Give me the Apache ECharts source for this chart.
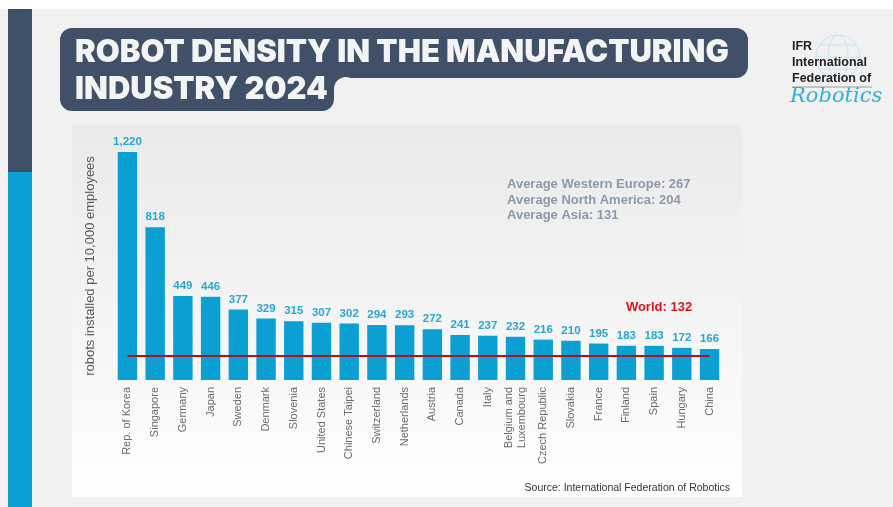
<!DOCTYPE html>
<html>
<head>
<meta charset="utf-8">
<script src="https://cdn.jsdelivr.net/npm/echarts@6/dist/echarts.min.js"></script>
<style>
  html, body { margin: 0; padding: 0; background: #f1f1f1; }
  #chart { width: 893px; height: 507px; }
</style>
</head>
<body>
<div id="chart"></div>
<script>
// robot density 2024, robots per 10,000 employees
var countries = ['Rep. of Korea', 'Singapore', 'Germany', 'Japan', 'Sweden', 'Denmark', 'Slovenia',
  'United States', 'Chinese Taipei', 'Switzerland', 'Netherlands', 'Austria', 'Canada', 'Italy',
  'Belgium and\nLuxembourg', 'Czech Republic', 'Slovakia', 'France', 'Finland', 'Spain', 'Hungary', 'China'];
var density = [1220, 818, 449, 446, 377, 329, 315, 307, 302, 294, 293, 272, 241, 237, 232, 216, 210, 195, 183, 183, 172, 166];
var worldAvg = 132;
var regionAvgs = ['Average Western Europe: 267', 'Average North America: 204', 'Average Asia: 131'];

var dark = '#3f5068';
var blue = '#0b9fd2';

var myChart = echarts.init(document.getElementById('chart'));

// header, panel and logo drawn as graphics
var graphics = [
  { type: 'rect', shape: { x: 0, y: 0, width: 893, height: 9 }, style: { fill: '#ffffff' }, z: -10 },
  { type: 'rect', shape: { x: 8, y: 9, width: 24, height: 163 }, style: { fill: dark }, z: -5 },
  { type: 'rect', shape: { x: 8, y: 172, width: 24, height: 335 }, style: { fill: blue }, z: -5 },
  // chart panel
  {
    type: 'rect', shape: { x: 72, y: 125, width: 670, height: 372 }, z: -8,
    style: { fill: new echarts.graphic.LinearGradient(0, 0, 0, 1, [
      { offset: 0, color: '#eaeaea' }, { offset: 0.6, color: '#f6f6f6' }, { offset: 1, color: '#ffffff' }]) }
  },
  // title box
  { type: 'rect', shape: { x: 60, y: 28, width: 688, height: 50, r: 12 }, style: { fill: dark }, z: 1 },
  { type: 'rect', shape: { x: 60, y: 66, width: 274, height: 45, r: [0, 0, 12, 12] }, style: { fill: dark }, z: 1 },
  { type: 'rect', shape: { x: 334, y: 77, width: 12, height: 12 }, style: { fill: dark }, z: 1 },
  { type: 'circle', shape: { cx: 346, cy: 89, r: 12 }, style: { fill: '#f1f1f1' }, z: 2 },
  {
    type: 'text', x: 75, y: 53, z: 3,
    style: { text: 'ROBOT DENSITY IN THE MANUFACTURING', fill: '#f4f4f4', font: '900 31px Inter',
      verticalAlign: 'middle', letterSpacing: 1.6 }
  },
  {
    type: 'text', x: 75, y: 90, z: 3,
    style: { text: 'INDUSTRY 2024', fill: '#f4f4f4', font: '900 31px Inter',
      verticalAlign: 'middle', letterSpacing: 0.5 }
  },
  // IFR logo
  { type: 'circle', shape: { cx: 838, cy: 57, r: 22 }, style: { fill: 'none', stroke: '#c6e6f3', lineWidth: 1.2 }, z: 1 },
  { type: 'ellipse', shape: { cx: 838, cy: 57, rx: 10, ry: 22 }, style: { fill: 'none', stroke: '#c6e6f3', lineWidth: 1 }, z: 1 },
  { type: 'line', shape: { x1: 816, y1: 57, x2: 860, y2: 57 }, style: { stroke: '#c6e6f3', lineWidth: 1 }, z: 1 },
  { type: 'line', shape: { x1: 820, y1: 45, x2: 856, y2: 45 }, style: { stroke: '#c6e6f3', lineWidth: 1 }, z: 1 },
  { type: 'line', shape: { x1: 820, y1: 69, x2: 856, y2: 69 }, style: { stroke: '#c6e6f3', lineWidth: 1 }, z: 1 },
  { type: 'text', x: 792, y: 47, z: 3, style: { text: 'IFR', fill: '#222', font: 'bold 12.5px "Liberation Sans"', verticalAlign: 'middle' } },
  { type: 'text', x: 792, y: 63, z: 3, style: { text: 'International', fill: '#222', font: 'bold 12.5px "Liberation Sans"', verticalAlign: 'middle' } },
  { type: 'text', x: 792, y: 79, z: 3, style: { text: 'Federation of', fill: '#222', font: 'bold 12.5px "Liberation Sans"', verticalAlign: 'middle' } },
  { type: 'line', shape: { x1: 792, y1: 87, x2: 872, y2: 87 }, style: { stroke: '#888', lineWidth: 0.8 }, z: 3 },
  { type: 'text', x: 790, y: 97, z: 3, style: { text: 'Robotics', fill: '#33aee2', font: 'italic 21px "DejaVu Serif"', verticalAlign: 'middle', letterSpacing: 1 } },
  // notes
  {
    type: 'text', x: 507, y: 177, z: 5,
    style: { text: regionAvgs.join('\n'), fill: '#8d98a8', font: 'bold 13px "Liberation Sans"', lineHeight: 15.5 }
  },
  {
    type: 'text', x: 659, y: 307, z: 5,
    style: { text: 'World: ' + worldAvg, fill: '#d7141e', font: 'bold 13px "Liberation Sans"', align: 'center', verticalAlign: 'middle' }
  },
  {
    type: 'text', x: 730, y: 488, z: 5,
    style: { text: 'Source: International Federation of Robotics', fill: '#333', font: '10.5px "Liberation Sans"', align: 'right', verticalAlign: 'middle' }
  }
];

var option = {
  backgroundColor: '#f1f1f1',
  animation: false,
  grid: { left: 113.6, right: 169.6, top: 152, bottom: 127 },
  xAxis: {
    type: 'category',
    data: countries,
    axisLine: { show: false },
    axisTick: { show: false },
    axisLabel: {
      rotate: 90, interval: 0, margin: 7,
      color: '#6a6a6a', fontFamily: 'Liberation Sans', fontSize: 11, lineHeight: 13
    }
  },
  yAxis: {
    type: 'value', min: 0, max: 1220,
    name: 'robots installed per 10,000 employees',
    nameLocation: 'middle', nameGap: 17, nameRotate: 90,
    nameTextStyle: { color: '#5a5a5a', fontFamily: 'Liberation Sans', fontSize: 13 },
    axisLine: { show: false }, axisTick: { show: false },
    axisLabel: { show: false }, splitLine: { show: false }
  },
  graphic: graphics,
  series: [{
    type: 'bar',
    data: density,
    barWidth: '70%',
    itemStyle: { color: blue },
    label: {
      show: true, position: 'top', distance: 4,
      color: '#26a7d6', fontFamily: 'Liberation Sans', fontWeight: 'bold', fontSize: 11.5,
      formatter: function (p) { return p.value.toLocaleString('en-US'); }
    },
    markLine: {
      silent: true, symbol: 'none',
      label: { show: false },
      lineStyle: { color: '#b3121c', width: 2, type: 'solid' },
      data: [[{ coord: [countries[0], worldAvg] }, { coord: [countries[countries.length - 1], worldAvg] }]]
    }
  }]
};

myChart.setOption(option);
</script>
</body>
</html>
